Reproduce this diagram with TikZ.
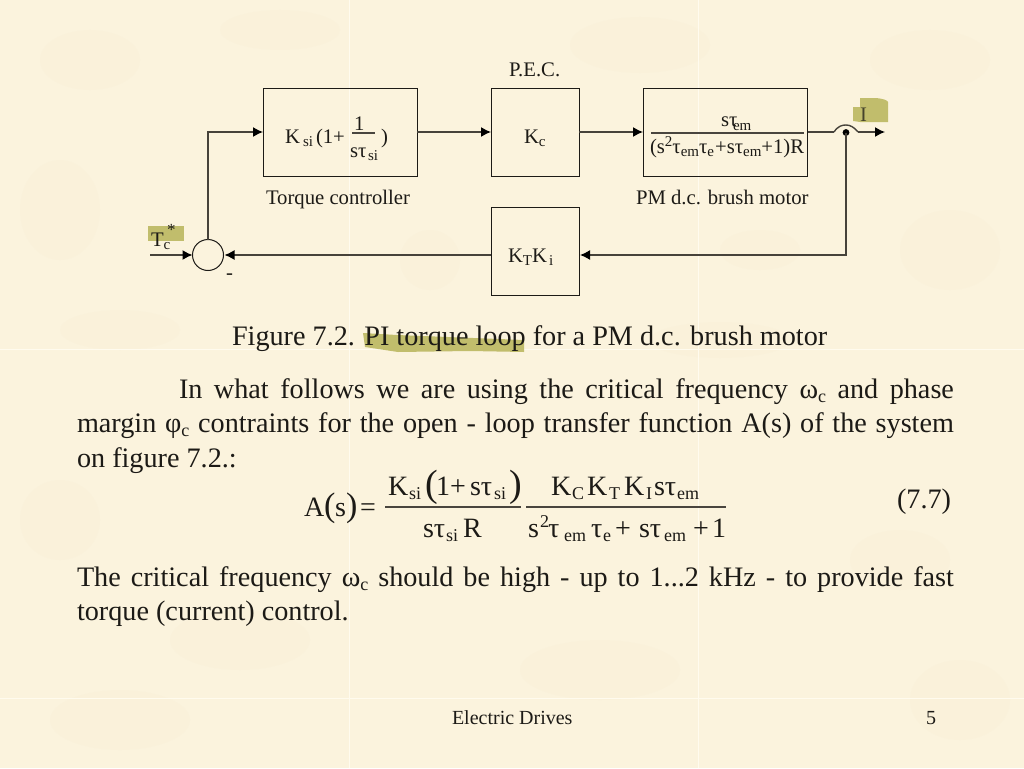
\documentclass[tikz,border=0pt]{standalone}
\usepackage{fontspec}
\setmainfont{Liberation Serif}
\usetikzlibrary{arrows.meta,calc}
\definecolor{paper}{RGB}{251,243,221}
\definecolor{blotch}{RGB}{248,238,212}
\definecolor{tile}{RGB}{255,251,238}
\definecolor{hilite}{RGB}{193,189,108}
\definecolor{ink}{RGB}{28,26,22}
\definecolor{wire}{RGB}{70,66,58}
\newcommand\fsz[1]{\fontsize{#1}{#1}\selectfont}
\newcommand\dsub[1]{\raisebox{-3pt}{\fsz{15}#1}}
\newcommand\bsub[1]{\raisebox{-4pt}{\fsz{18}#1}}
\tikzset{
  txt/.style={anchor=base west,inner sep=0pt,outer sep=0pt,text=ink},
  dtxt/.style={txt,font=\fsz{20.7}},
  dstxt/.style={txt,font=\fsz{15}},
  btxt/.style={txt,font=\fsz{28.2}},
  etxt/.style={txt,font=\fsz{28}},
  estxt/.style={txt,font=\fsz{18}},
  ebig/.style={txt,font=\fsz{34}},
  ebigger/.style={txt,font=\fsz{38}},
  block/.style={draw=ink,line width=1pt,fill=none,inner sep=0pt,outer sep=0pt},
  sumc/.style={draw=ink,line width=1pt,circle,inner sep=0pt,outer sep=0pt,minimum size=31pt},
  link/.style={draw=wire,line width=1.4pt,-{Latex[length=10pt,width=10pt,black]}},
  plain/.style={draw=wire,line width=1.4pt},
  bar/.style={draw=ink!80!paper,line width=1.3pt},
  hilitemark/.style={fill=hilite,draw=none},
}
\begin{document}
\begin{tikzpicture}[x=1pt,y=-1pt]
\useasboundingbox (0,0) rectangle (1024,768);
\fill[paper] (0,0) rectangle (1024,768);
% paper texture
\foreach \cx/\cy/\rx/\ry in {90/60/50/30, 280/30/60/20, 640/45/70/28, 930/60/60/30, 60/210/40/50, 120/330/60/20, 950/250/50/40, 720/340/70/18, 60/520/40/40, 240/640/70/30, 600/670/80/30, 900/560/50/30, 960/700/50/40, 120/720/70/30, 430/260/30/30, 760/250/40/20}
  \fill[blotch,opacity=.3] (\cx,\cy) ellipse [x radius=\rx,y radius=\ry];
\foreach \gx in {349,698}
  \draw[tile,line width=1pt] (\gx,0) -- (\gx,768);
\foreach \gy in {349,698}
  \draw[tile,line width=1pt] (0,\gy) -- (1024,\gy);
% highlighter strokes
\fill[hilitemark] (148,226) rectangle (184,241);
\fill[hilitemark] (860,98) -- (876,98) .. controls (884,99) and (887,100) .. (888,102) -- (888,122) -- (860,122) -- (853,121) -- (853,107) -- (860,107) -- cycle;
\fill[hilitemark] (363,333) -- (397,335) -- (524,340) -- (524,352) -- (470,351) -- (398,352) -- (365,347) -- cycle;
% blocks
\node[block,minimum width=154pt,minimum height=88pt] (ctrl) at (340,132) {};
\node[block,minimum width=88pt,minimum height=88pt] (pec) at (535,132) {};
\node[block,minimum width=164pt,minimum height=88pt] (motor) at (725,132) {};
\node[block,minimum width=88pt,minimum height=88pt] (fb) at (535,251) {};
\node[sumc] (sum) at (208,255) {};
\coordinate (tcin) at (150,255);
\coordinate (corner) at (208,132);
\coordinate (juncin) at (834,132);
\coordinate (juncout) at (858,132);
\coordinate (iout) at (885,132);
\coordinate (fbcorner) at (846,255);
\coordinate (junc) at (846,132.5);
\fill[black] (junc) circle (3.4pt);
% connectors
\draw[link] (tcin) -- (sum.west);
\draw[link] (sum.north) -- (corner) -- (ctrl.west);
\draw[link] (ctrl.east) -- (pec.west);
\draw[link] (pec.east) -- (motor.west);
\draw[plain] (motor.east) ++(1,0) -- (juncin);
\draw[plain] (juncin) .. controls (838,126) and (842,125) .. (846,125) .. controls (850,125) and (854,127) .. (858,132);
\draw[link] (juncout) -- (iout);
\draw[link] (junc) -- (fbcorner) -- ($(fb.east)+(1,4)$);
\draw[link] ($(fb.west)+(0,4)$) -- ($(sum.east)+(1,0)$);
% fraction bars
\draw[bar] (352,133) -- (375,133);
\draw[bar] (651,133) -- (804,133);
\draw[bar] (385,507) -- (521,507);
\draw[bar] (526,507) -- (726,507);
% diagram labels
\node[dtxt] (pectxt) at (509,77) {P.E.C.};
\node[dtxt] (tcl) at (266,204) {Torque controller};
\node[dtxt] (pml) at (636,204) {PM d.c. brush motor};
\node[dtxt] (ks) at (285,143) {K};
\node[dstxt] (kss) at (303,146) {si};
\node[dtxt] (op) at (316,143) {(1+};
\node[dtxt] (one) at (354,130) {1};
\node[dtxt] (den) at (350,157) {sτ};
\node[dstxt] (dens) at (368,160) {si};
\node[dtxt] (cp) at (381,143) {)};
\node[dtxt] (kc) at (524,143) {K\dsub{c}};
\node[dtxt] (st) at (721,126) {sτ};
\node[dstxt] (em) at (733,130) {em};
\node[dtxt] (mden) at (650,153) {(s\raisebox{7pt}{\fsz{15}2}τ\dsub{em}τ\dsub{e}\hspace{1pt}+sτ\dsub{em}+1)R};
\node[dtxt] (ktki) at (508,262) {K\dsub{T}K\hspace{2pt}\dsub{i}};
\node[dtxt] (tc) at (151,246) {T\dsub{c}};
\node[txt,font=\fsz{17}] (star) at (167,235) {*};
\node[dtxt] (minus) at (226,279) {-};
\node[dtxt,text=ink!75!hilite] (iy) at (860,121) {I};
% caption and body
\node[btxt] (cap) at (232,345) {Figure 7.2. PI torque loop for a PM d.c. brush motor};
\node[btxt] (l1) at (179,398) {\hbox to 775pt{In what follows we are using the critical frequency ω\bsub{c} and phase}};
\node[btxt] (l2) at (77,432) {\hbox to 877pt{margin φ\bsub{c} contraints for the open - loop transfer function A(s) of the system}};
\node[btxt] (l3) at (77,467) {on figure 7.2.:};
\node[btxt] (l4) at (77,586) {\hbox to 877pt{The critical frequency ω\bsub{c} should be high - up to 1...2 kHz - to provide fast}};
\node[btxt] (l5) at (77,620) {torque (current) control.};
\node[btxt] (eqno) at (897,508) {(7.7)};
% equation
\node[etxt] (eA) at (304,516) {A};
\node[ebig] (eo) at (324,516) {(};
\node[etxt] (es) at (335,516) {s};
\node[ebig] (ec) at (346,516) {)};
\node[etxt] (eeq) at (360,516) {=};
\node[etxt] (n1) at (388,495) {K};
\node[estxt] (n1s) at (409,499) {si};
\node[ebigger] (n2) at (425,496) {(};
\node[etxt] (n3) at (436,495) {1};
\node[etxt] (n4) at (450,495) {+};
\node[etxt] (n5) at (470,495) {sτ};
\node[estxt] (n5s) at (494,499) {si};
\node[ebigger] (n6) at (509,496) {)};
\node[etxt] (d1) at (423,537) {sτ};
\node[estxt] (d1s) at (446,541) {si};
\node[etxt] (d2) at (463,537) {R};
\node[etxt] (m1) at (551,495) {K};
\node[estxt] (m1s) at (572,499) {C};
\node[etxt] (m2) at (587,495) {K};
\node[estxt] (m2s) at (609,499) {T};
\node[etxt] (m3) at (624,495) {K};
\node[estxt] (m3s) at (646,499) {I};
\node[etxt] (m4) at (654,495) {sτ};
\node[estxt] (m4s) at (677,499) {em};
\node[etxt] (q1) at (528,537) {s};
\node[estxt] (q1s) at (540,527) {2};
\node[etxt] (q2) at (548,537) {τ};
\node[estxt] (q2s) at (564,541) {em};
\node[etxt] (q3) at (591,537) {τ};
\node[estxt] (q3s) at (603,541) {e};
\node[etxt] (q4) at (615,537) {+};
\node[etxt] (q5) at (639,537) {sτ};
\node[estxt] (q5s) at (664,541) {em};
\node[etxt] (q6) at (693,537) {+};
\node[etxt] (q7) at (712,537) {1};
% footer
\node[txt,font=\fsz{20}] (foot) at (452,724) {Electric Drives};
\node[txt,font=\fsz{20}] (page) at (926,724) {5};
\end{tikzpicture}
\end{document}
